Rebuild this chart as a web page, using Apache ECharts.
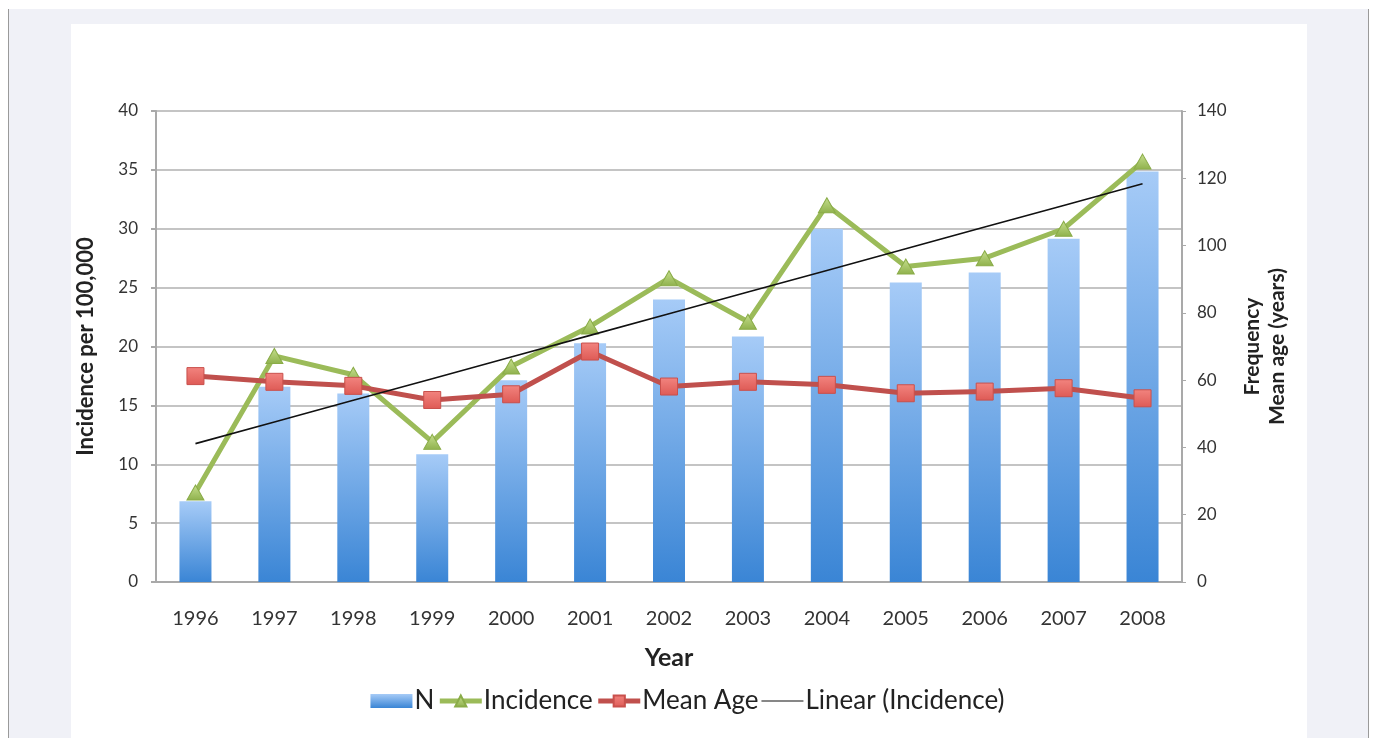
<!DOCTYPE html>
<html>
<head>
<meta charset="utf-8">
<script src="https://cdn.jsdelivr.net/npm/echarts@6/dist/echarts.min.js"></script>
<style>
  html, body { margin: 0; padding: 0; background: #ffffff; width: 1375px; height: 738px; overflow: hidden; }
  #frame { position: absolute; left: 8px; top: 9px; width: 1359px; height: 729px; background: #f0f1f7;
           border-left: 1px solid #9a9a9a; border-right: 1px solid #9a9a9a; }
  #panel { position: absolute; left: 71px; top: 24px; width: 1236px; height: 714px; background: #ffffff; }
  #chart { position: absolute; left: 0; top: 0; width: 1375px; height: 738px; }
</style>
</head>
<body>
<div id="frame"></div>
<div id="panel"></div>
<div id="chart"></div>
<script>
// Yearly case counts, incidence and mean age
const years = ['1996','1997','1998','1999','2000','2001','2002','2003','2004','2005','2006','2007','2008'];
const frequencyN = [24, 58, 56, 38, 60, 71, 84, 73, 105, 89, 92, 102, 122];
const incidence = [7.6, 19.2, 17.6, 11.9, 18.3, 21.7, 25.8, 22.1, 32.0, 26.8, 27.5, 30.0, 35.7];
const meanAge = [61.2, 59.5, 58.3, 54.1, 55.8, 68.5, 58.1, 59.5, 58.6, 56.1, 56.6, 57.6, 54.6];
const leftTicks = { min: 0, max: 40, interval: 5 };
const rightTicks = { min: 0, max: 140, interval: 20 };

// Least-squares linear trend of incidence over the year index
function linearTrend(values) {
  const n = values.length;
  let sx = 0, sy = 0, sxy = 0, sxx = 0;
  values.forEach((v, i) => { sx += i; sy += v; sxy += i * v; sxx += i * i; });
  const slope = (n * sxy - sx * sy) / (n * sxx - sx * sx);
  const icpt = (sy - slope * sx) / n;
  return values.map((_, i) => +(icpt + slope * i).toFixed(3));
}
const incidenceTrend = linearTrend(incidence);

const FONT = 'Lato, "Liberation Sans", sans-serif';
// a hairline path used as a "no marker" legend symbol for the trend line
const THIN_ICON = 'path://M0,0H40V1H0Z';
const chart = echarts.init(document.getElementById('chart'), null, { renderer: 'canvas' });

chart.setOption({
  animation: false,
  backgroundColor: 'transparent',
  textStyle: { fontFamily: FONT },
  grid: { left: 156, right: 193, top: 111, bottom: 156, containLabel: false },
  legend: {
    top: 683,
    left: 'center',
    itemWidth: 42,
    itemHeight: 14,
    itemGap: 3,
    textStyle: { fontSize: 26, color: '#222', fontFamily: FONT, padding: [0, 0, 0, -3] },
    data: [
      { name: 'N', icon: 'rect' },
      { name: 'Incidence', lineStyle: { width: 5 } },
      { name: 'Mean Age', lineStyle: { width: 5 } },
      { name: 'Linear (Incidence)', icon: THIN_ICON, lineStyle: { width: 1.5 } }
    ]
  },
  xAxis: {
    type: 'category',
    data: years,
    boundaryGap: true,
    axisLine: { lineStyle: { color: '#a9a9a9', width: 2 } },
    axisTick: { show: false },
    axisLabel: { fontSize: 20, color: '#333', margin: 27, fontFamily: FONT },
    name: 'Year',
    nameLocation: 'middle',
    nameGap: 63,
    nameTextStyle: { fontSize: 25, fontWeight: 'bold', color: '#222', fontFamily: FONT }
  },
  yAxis: [
    {
      type: 'value',
      min: leftTicks.min, max: leftTicks.max, interval: leftTicks.interval,
      position: 'left',
      axisLine: { show: true, lineStyle: { color: '#a9a9a9', width: 2 } },
      axisTick: { show: true, length: 5, lineStyle: { color: '#a9a9a9', width: 2 } },
      splitLine: { show: true, lineStyle: { color: '#c4c4c4', width: 2 } },
      axisLabel: { fontSize: 17, color: '#333', margin: 18, fontFamily: FONT },
      name: 'Incidence per 100,000',
      nameLocation: 'middle',
      nameGap: 59,
      nameRotate: 90,
      nameTextStyle: { fontSize: 22, fontWeight: 'bold', color: '#222', fontFamily: FONT }
    },
    {
      type: 'value',
      min: rightTicks.min, max: rightTicks.max, interval: rightTicks.interval,
      position: 'right',
      axisLine: { show: true, lineStyle: { color: '#a9a9a9', width: 2 } },
      axisTick: { show: true, length: 4, lineStyle: { color: '#a9a9a9', width: 1 } },
      splitLine: { show: false },
      axisLabel: { fontSize: 17, color: '#333', margin: 15, fontFamily: FONT },
      name: 'Frequency\nMean age (years)',
      nameLocation: 'middle',
      nameGap: 58,
      nameRotate: 90,
      nameTextStyle: { fontSize: 21, fontWeight: 'bold', color: '#222', lineHeight: 25, fontFamily: FONT }
    }
  ],
  series: [
    {
      name: 'N',
      type: 'bar',
      yAxisIndex: 1,
      barWidth: 32,
      data: frequencyN,
      itemStyle: {
        color: new echarts.graphic.LinearGradient(0, 0, 0, 1, [
          { offset: 0, color: '#a6cbf7' },
          { offset: 1, color: '#3a85d5' }
        ])
      },
      z: 1
    },
    {
      name: 'Incidence',
      type: 'line',
      yAxisIndex: 0,
      data: incidence,
      symbol: 'triangle',
      symbolSize: [17, 15],
      showSymbol: true,
      color: '#9bbb59',
      lineStyle: { color: '#9bbb59', width: 5 },
      itemStyle: {
        color: new echarts.graphic.LinearGradient(0, 0, 0, 1, [
          { offset: 0, color: '#c6df8e' },
          { offset: 1, color: '#8fb14c' }
        ]),
        borderColor: '#8aac48',
        borderWidth: 1
      },
      z: 3
    },
    {
      name: 'Mean Age',
      type: 'line',
      yAxisIndex: 1,
      data: meanAge,
      symbol: 'rect',
      symbolSize: 17,
      showSymbol: true,
      color: '#c0504d',
      lineStyle: { color: '#c0504d', width: 5 },
      itemStyle: {
        color: new echarts.graphic.LinearGradient(0, 0, 0, 1, [
          { offset: 0, color: '#f2847f' },
          { offset: 1, color: '#de5a55' }
        ]),
        borderColor: '#c9504c',
        borderWidth: 1
      },
      z: 4
    },
    {
      name: 'Linear (Incidence)',
      type: 'line',
      yAxisIndex: 0,
      data: incidenceTrend,
      symbol: 'none',
      color: '#111',
      lineStyle: { color: '#111', width: 1.6 },
      z: 5
    }
  ]
});
</script>
</body>
</html>
